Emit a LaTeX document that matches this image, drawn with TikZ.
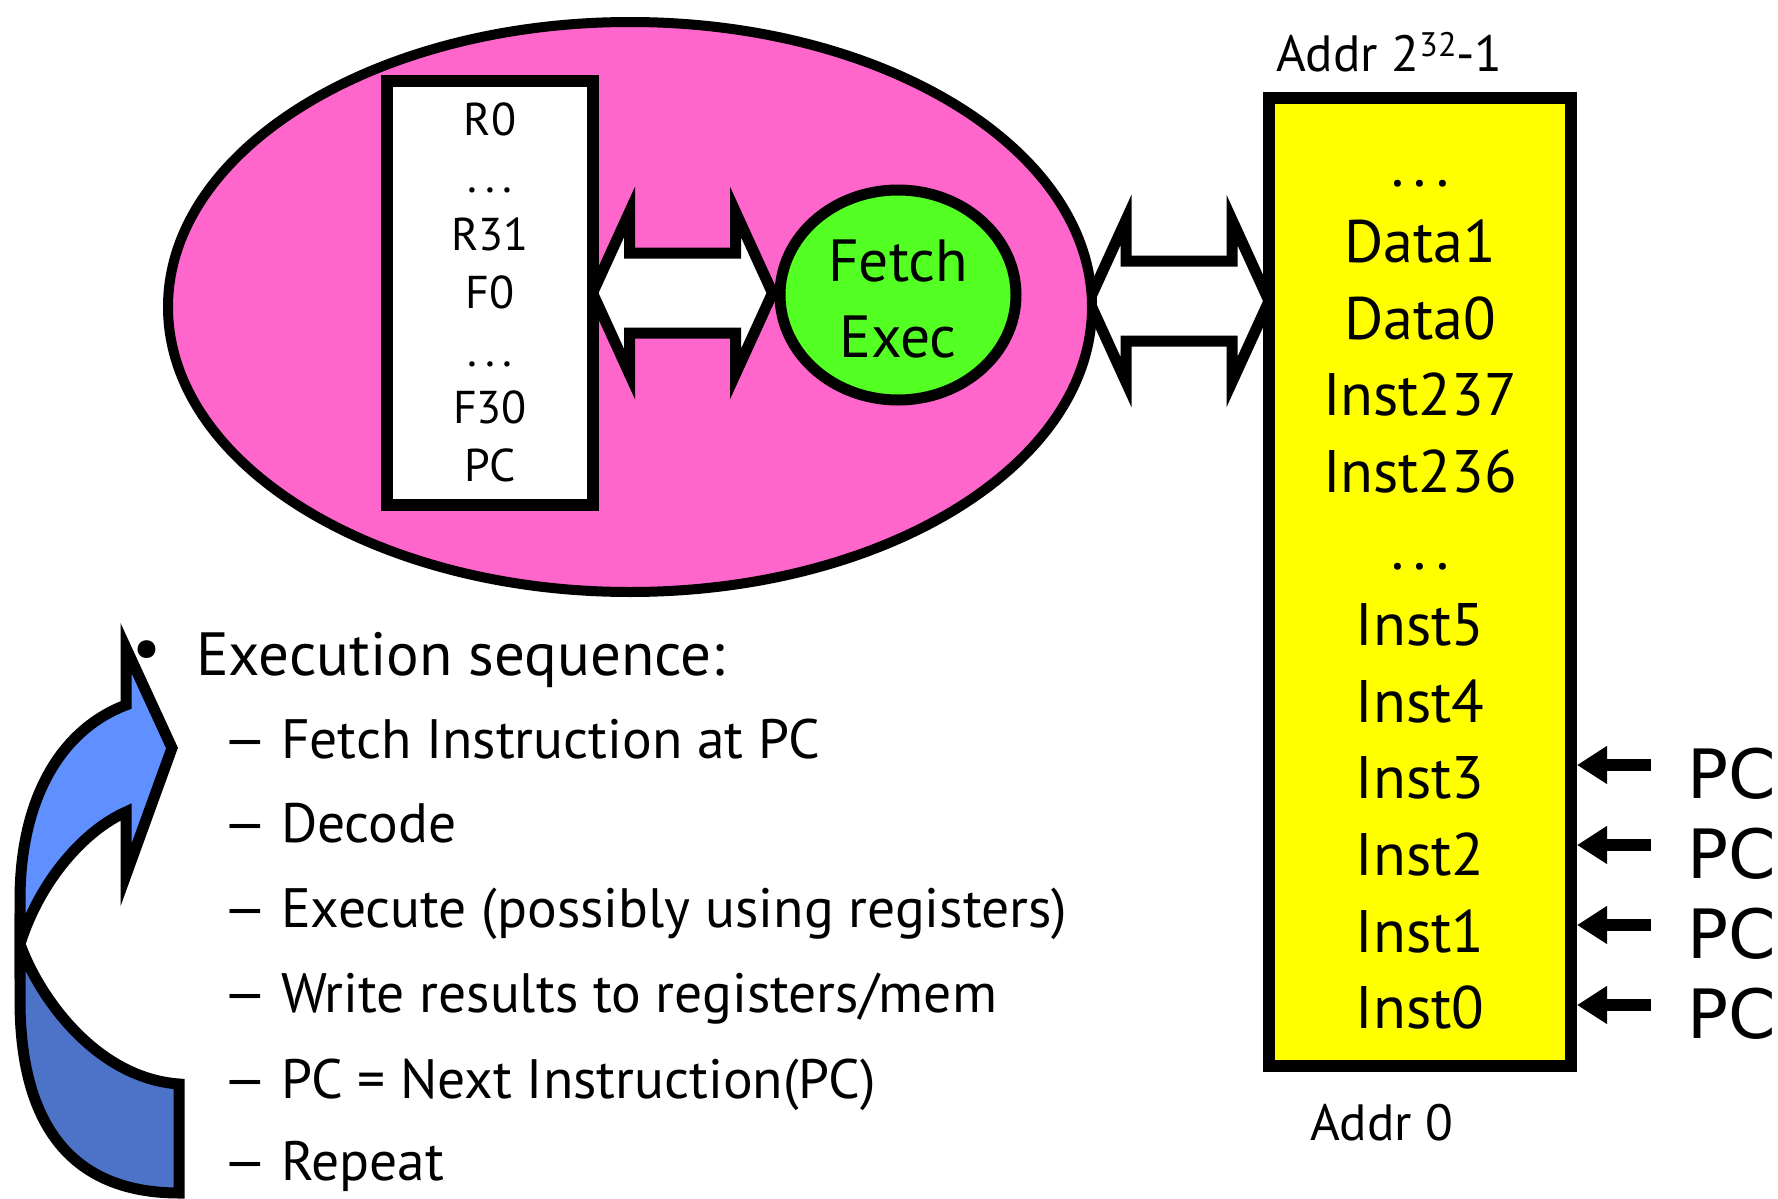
\documentclass[tikz,border=0pt]{standalone}
\usepackage{fontspec}
\usepackage{graphicx}
\setmainfont{PT Sans}
\newfontfamily\pcfont{DejaVu Sans}
\usetikzlibrary{arrows.meta,shapes.geometric}

\definecolor{cpupink}{RGB}{255,102,204}
\definecolor{coregreen}{RGB}{84,255,36}
\definecolor{memyellow}{RGB}{255,255,0}
\definecolor{loopblue}{RGB}{96,144,255}
\definecolor{loopdark}{RGB}{77,115,200}
\newcommand{\fsz}[1]{\fontsize{#1}{1.2\dimexpr #1pt\relax}\selectfont}
% widely spaced ellipsis
\newcommand{\wdots}{.\kern0.16em.\kern0.16em.}
% long dash for the step list
\newcommand{\stepdash}{\scalebox{1.3}[1]{–}}

\begin{document}
\begin{tikzpicture}[x=1pt,y=-1pt,
  heavy/.style={draw=black, line width=11pt, line join=miter},
  boxline/.style={draw=black, line width=12pt},
  txt/.style={inner sep=0pt, outer sep=0pt},
  regtext/.style={txt, anchor=base, font=\fsz{46}},
  coretext/.style={txt, anchor=base, font=\fsz{59.5}},
  memtext/.style={txt, anchor=base, font=\fsz{60}},
  addrtext/.style={txt, anchor=base west, font=\fsz{51}},
  headtext/.style={txt, anchor=base west, font=\fsz{61}},
  itemtext/.style={txt, anchor=base west, font=\fsz{55.5}},
  pctext/.style={txt, anchor=base west, font=\pcfont\fsz{68}},
  pcarrow/.style={line width=12pt, -{Triangle[length=30pt,width=36pt]}},
  busarrow/.style={heavy, fill=white}
]
\useasboundingbox (0,0) rectangle (1778,1199);

% bus from the processor to memory (drawn under both)
\coordinate (busR) at (1126,301);
\draw[busarrow] ([xshift=-37pt]busR) -- ([yshift=-81pt]busR) -- ([yshift=-40pt]busR)
  -- ([xshift=106pt,yshift=-40pt]busR) -- ([xshift=106pt,yshift=-81pt]busR)
  -- ([xshift=143pt]busR) -- ([xshift=106pt,yshift=81pt]busR)
  -- ([xshift=106pt,yshift=40pt]busR) -- ([yshift=40pt]busR)
  -- ([yshift=81pt]busR) -- cycle;

% processor
\node[ellipse, draw=black, line width=10pt, fill=cpupink, minimum width=924pt,
  minimum height=570pt] (cpu) at (630,307) {};

% bus between register file and fetch/exec unit
\coordinate (busL) at (629.5,293);
\draw[busarrow] ([xshift=-37pt]busL) -- ([yshift=-81pt]busL) -- ([yshift=-40pt]busL)
  -- ([xshift=106pt,yshift=-40pt]busL) -- ([xshift=106pt,yshift=-81pt]busL)
  -- ([xshift=143pt]busL) -- ([xshift=106pt,yshift=81pt]busL)
  -- ([xshift=106pt,yshift=40pt]busL) -- ([yshift=40pt]busL)
  -- ([yshift=81pt]busL) -- cycle;

% register file
\node[boxline, fill=white, minimum width=206pt, minimum height=424pt] (regs) at (490,293) {};
\foreach \t/\y [count=\i] in {R0/135, \wdots/192, R31/250, F0/308, \wdots/366, F30/423, PC/481}
  \node[regtext] (reg\i) at (490,\y) {\t};

% fetch / execute unit
\node[ellipse, draw=black, line width=11pt, fill=coregreen, minimum width=236pt,
  minimum height=210pt] (core) at (898,295) {};
\node[coretext] (fetch) at (898,281) {Fetch};
\node[coretext] (exec) at (898,357) {Exec};

% memory
\node[boxline, fill=memyellow, minimum width=302pt, minimum height=968pt] (mem) at (1420,582) {};
\foreach \t [count=\i from 0] in {\wdots, Data1, Data0, Inst237, Inst236, \wdots,
    Inst5, Inst4, Inst3, Inst2, Inst1, Inst0}
  \node[memtext] (cell\i) at (1420,{186+76.6*\i}) {\t};
\node[addrtext] (top) at (1276,71) {Addr 2\raisebox{14pt}{\fsz{34}32}-1};
\node[addrtext] (bottom) at (1310,1140) {Addr 0};

% program counter positions
\foreach \y [count=\i] in {798, 878, 958, 1038} {
  \node[pctext] (pc\i) at (1687,\y) {PC};
  \coordinate (pctail\i) at (1651,\y-33);
  \draw[pcarrow] (pctail\i) -- (pctail\i -| mem.east);
}

% loop arrow: back (darker) half
\draw[heavy, fill=loopdark] (20,944) -- (20,1000)
  .. controls (20,1135) and (80,1193) .. (179,1193) -- (179,1084)
  .. controls (95,1078) and (38,995) .. (20,944) -- cycle;
% loop arrow: front half with head
\draw[heavy, fill=loopblue] (20,944) -- (20,900)
  .. controls (20,800) and (60,730) .. (126,705) -- (126,648) -- (172,748)
  -- (126,875) -- (126,812) .. controls (85,830) and (40,880) .. (20,944) -- cycle;

% execution sequence
\node[txt, anchor=center, font=\fsz{64}] (bullet) at (147,655) {\textbullet};
\node[headtext] (head) at (196,675) {Execution sequence:};
\foreach \t/\y [count=\i] in {Fetch Instruction at PC/758, Decode/842,
    Execute (possibly using registers)/927, Write results to registers\slash mem/1012,
    PC = Next Instruction(PC)/1098, Repeat/1180} {
  \node[itemtext] (dash\i) at (221,\y) {\stepdash};
  \node[itemtext] (step\i) at (281,\y) {\t};
}
\end{tikzpicture}
\end{document}
